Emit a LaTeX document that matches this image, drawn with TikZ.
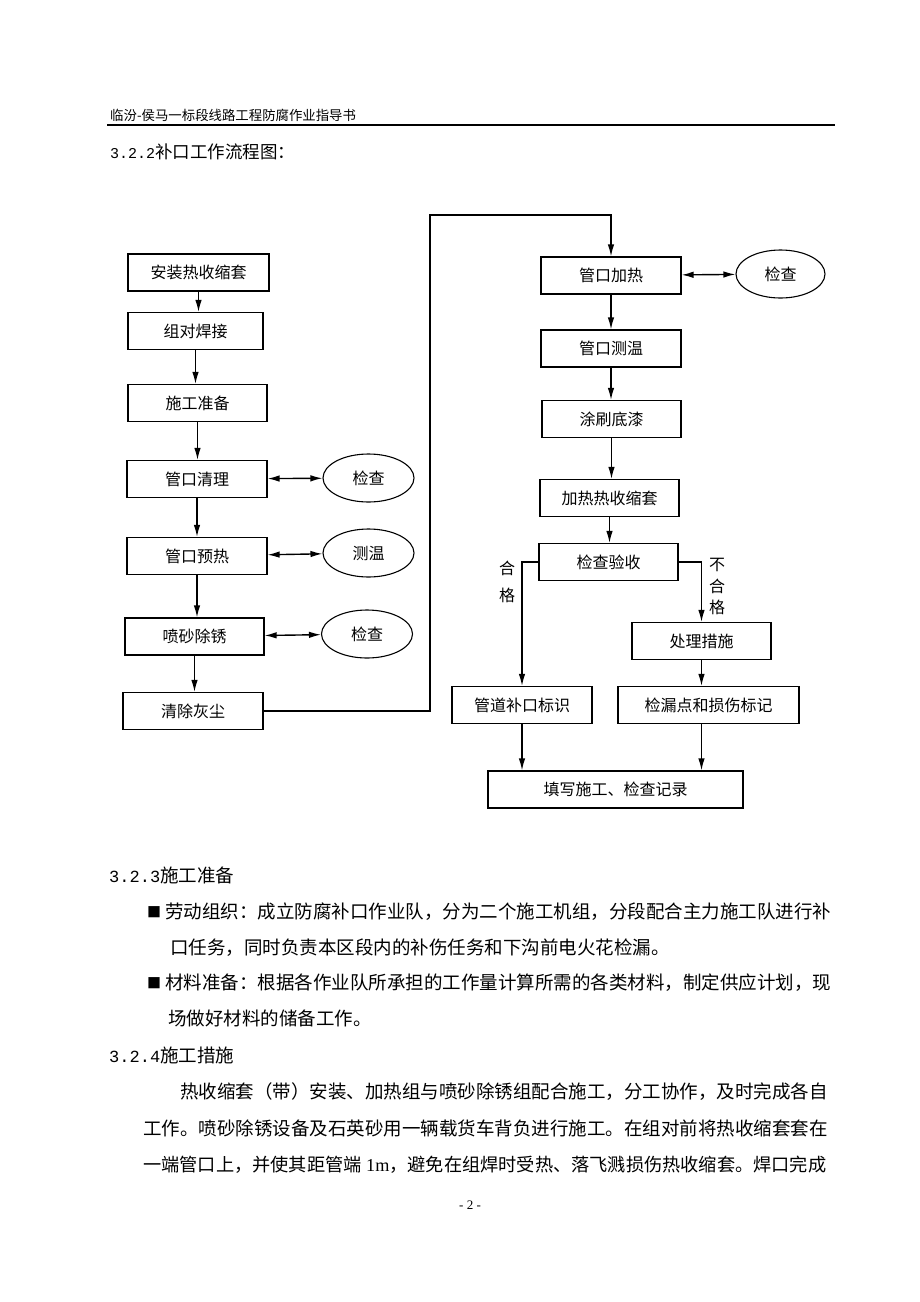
\documentclass[tikz,border=0pt]{standalone}
\usepackage{fontspec}
\newfontfamily\cjk{Noto Sans CJK SC}
\newfontfamily\lmono{Liberation Mono}
\newfontfamily\lserif{Liberation Serif}
\usepackage{tikz}
\usetikzlibrary{arrows.meta,shapes,calc}
\tikzstyle{stage}=[draw, line width=1.1pt, minimum height=37pt, inner sep=0pt, font=\cjk\fontsize{16}{16}\selectfont]
\tikzstyle{check}=[draw, ellipse, line width=1.1pt, minimum width=91pt, minimum height=48pt, inner sep=0pt, font=\cjk\fontsize{16}{16}\selectfont]
\tikzstyle{flow}=[line width=1.4pt, -{Latex[length=12pt,width=6.5pt]}]
\tikzstyle{both}=[line width=1.4pt, {Latex[length=12pt,width=6.5pt]}-{Latex[length=12pt,width=6.5pt]}]
\tikzstyle{body}=[anchor=west, inner sep=0pt, font=\cjk\fontsize{18.5}{18.5}\selectfont]
\newcommand{\secno}[2]{{\lmono\fontsize{#1}{#1}\selectfont #2}}

\begin{document}
\begin{tikzpicture}[x=1pt,y=-1pt]
	\fill[white] (0,0) rectangle (920,1302);
	\useasboundingbox (0,0) rectangle (920,1302);
%
	\node[body, font=\cjk\fontsize{13.4}{13.4}\selectfont] (hdr) at (110,115) {临汾-侯马一标段线路工程防腐作业指导书};
	\draw[line width=1.6pt] (107,125) -- (835,125);
	\node[body, font=\cjk\fontsize{17.5}{17.5}\selectfont] (ttl) at (110,152) {\secno{15}{3.2.2}补口工作流程图：};
%
	\node[stage, minimum width=141pt] (install) at (198.5,272.5) {安装热收缩套};
	\node[stage, minimum width=135pt] (weld) at (195.5,331) {组对焊接};
	\node[stage, minimum width=139pt] (prep) at (197.5,403) {施工准备};
	\node[stage, minimum width=140pt] (clean) at (197,479) {管口清理};
	\node[stage, minimum width=140pt] (preheat) at (197,556) {管口预热};
	\node[stage, minimum width=139pt] (blast) at (194.5,636.5) {喷砂除锈};
	\node[stage, minimum width=140pt] (dust) at (193,711) {清除灰尘};
	\node[check] (chkA) at (368.5,478) {检查};
	\node[check] (tmpA) at (368.5,553) {测温};
	\node[check] (chkB) at (367,634) {检查};
%
	\node[stage, minimum width=140pt] (heat) at (611,275.5) {管口加热};
	\node[check, minimum width=89pt] (chkC) at (780.5,274) {检查};
	\node[stage, minimum width=140pt] (temp) at (611,348.5) {管口测温};
	\node[stage, minimum width=139pt] (primer) at (611.5,419) {涂刷底漆};
	\node[stage, minimum width=139pt] (shrink) at (609.5,498) {加热热收缩套};
	\node[stage, minimum width=139pt] (accept) at (608.5,562) {检查验收};
	\node[stage, minimum width=139pt] (repair) at (701.5,641) {处理措施};
	\node[stage, minimum width=140pt] (mark) at (522,705) {管道补口标识};
	\node[stage, minimum width=181pt] (leak) at (708.5,705) {检漏点和损伤标记};
	\node[stage, minimum width=255pt] (record) at (615.5,789.5) {填写施工、检查记录};
	\node[align=center, inner sep=0pt, font=\cjk\fontsize{16}{27}\selectfont] (pass) at (507,581.5) {合\\格};
	\node[align=center, inner sep=0pt, font=\cjk\fontsize{16}{21.5}\selectfont] (fail) at (717,586.5) {不\\合\\格};
%
	\draw[flow] (install) -- (install |- weld.north);
	\draw[flow] (weld) -- (weld |- prep.north);
	\draw[flow] (prep) -- (prep |- clean.north);
	\draw[flow] (clean) -- (clean |- preheat.north);
	\draw[flow] (preheat) -- (preheat |- blast.north);
	\draw[flow] (blast) -- (blast |- dust.north);
	\draw[both] (clean) -- (chkA);
	\draw[both] (preheat) -- (tmpA);
	\draw[both] (blast) -- (chkB);
	\coordinate (bend) at (430,215);
	\draw[flow] (dust.east) -| (bend) -| (heat.north);
	\draw[both] (heat) -- (chkC);
	\draw[flow] (heat) -- (heat |- temp.north);
	\draw[flow] (temp) -- (temp |- primer.north);
	\draw[flow] (primer) -- (primer |- shrink.north);
	\draw[flow] (shrink) -- (shrink |- accept.north);
	\draw[flow] (accept.west) -| (mark.north);
	\draw[flow] (accept.east) -| (repair.north);
	\draw[flow] (repair) -- (repair |- leak.north);
	\draw[flow] (mark) -- (mark |- record.north);
	\draw[flow] (repair |- leak.south) -- (repair |- record.north);
%
	\node[body] (secA) at (109,875) {\secno{17}{3.2.3}施工准备};
	\node[inner sep=0pt, font=\cjk\fontsize{14}{14}\selectfont] (sqA) at (154,912) {■};
	\node[body] (lnA) at (165,912) {劳动组织：成立防腐补口作业队，分为二个施工机组，分段配合主力施工队进行补};
	\node[body] (lnB) at (170,948) {口任务，同时负责本区段内的补伤任务和下沟前电火花检漏。};
	\node[inner sep=0pt, font=\cjk\fontsize{14}{14}\selectfont] (sqB) at (154,983) {■};
	\node[body] (lnC) at (165,983) {材料准备：根据各作业队所承担的工作量计算所需的各类材料，制定供应计划，现};
	\node[body] (lnD) at (168,1018) {场做好材料的储备工作。};
	\node[body] (secB) at (109,1055) {\secno{17}{3.2.4}施工措施};
	\node[body] (parA) at (180,1092) {热收缩套（带）安装、加热组与喷砂除锈组配合施工，分工协作，及时完成各自};
	\node[body] (parB) at (143,1128) {工作。喷砂除锈设备及石英砂用一辆载货车背负进行施工。在组对前将热收缩套套在};
	\node[body, font=\cjk\fontsize{18.2}{18.2}\selectfont] (parC) at (143,1165) {一端管口上，并使其距管端{\lserif\ 1m}，避免在组焊时受热、落飞溅损伤热收缩套。焊口完成};
	\node[inner sep=0pt, font=\lserif\fontsize{13}{13}\selectfont] (pgno) at (470,1205) {- 2 -};
\end{tikzpicture}
\end{document}
